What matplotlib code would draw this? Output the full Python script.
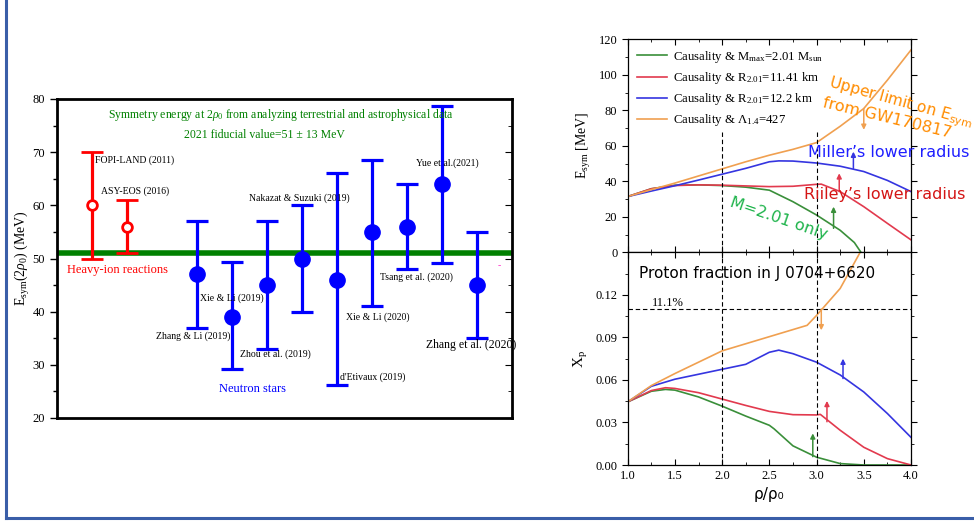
import matplotlib
matplotlib.use("Agg")
import matplotlib.pyplot as plt
from matplotlib.lines import Line2D
from matplotlib.ticker import MultipleLocator, FormatStrFormatter

plt.rcParams['font.family'] = ['Liberation Serif', 'DejaVu Serif']
plt.rcParams['mathtext.fontset'] = 'custom'
plt.rcParams['mathtext.rm'] = 'Liberation Serif'
plt.rcParams['mathtext.it'] = 'Liberation Serif:italic'

# ---------------- Left panel data ----------------
hi_pos = [1, 2]
hi_val = [60, 56]
hi_lo = [50, 51]
hi_hi = [70, 61]
ns_pos = [4, 5, 6, 7, 8, 9, 10, 11, 12]
ns_val = [47, 39, 45, 50, 46, 55, 56, 64, 45]
ns_lo = [37, 29.2, 33, 40, 26.2, 41, 48, 49.2, 35]
ns_hi = [57, 49.3, 57, 60, 66, 68.5, 64, 78.7, 55]
fiducial = 51
labels = ["FOPI-LAND (2011)", "ASY-EOS (2016)", "Zhang & Li (2019)", "Xie & Li (2019)",
          "Zhou et al. (2019)", "Nakazat & Suzuki (2019)", "d'Etivaux (2019)",
          "Xie & Li (2020)", "Tsang et al. (2020)", "Yue et al.(2021)", "Zhang et al. (2020)"]
label_x = [1.09, 1.26, 2.83, 4.09, 5.23, 5.49, 8.09, 8.26, 9.23, 10.26, 10.54]
label_y = [68.5, 62.7, 35.4, 42.6, 32.0, 61.4, 27.7, 39.0, 46.5, 68.0, 33.7]

# ---------------- Right panel data ----------------
esym_orange_x = [1.0, 1.25, 1.5, 1.75, 2.0, 2.25, 2.5, 2.75, 3.0, 3.25, 3.5, 3.75, 4.0]
esym_orange_y = [31.4, 35.3, 39, 43, 47, 51, 54.7, 58, 61.8, 71, 81, 97, 114]
esym_blue_x = [1.0, 1.25, 1.5, 1.75, 2.0, 2.25, 2.5, 2.6, 2.75, 3.0, 3.25, 3.5, 3.75, 4.0]
esym_blue_y = [31.4, 34.5, 37.5, 40.7, 44, 47.3, 51, 51.5, 51.4, 50.3, 48.5, 45.5, 40.5, 34.2]
esym_red_x = [1.0, 1.25, 1.5, 1.75, 2.0, 2.25, 2.5, 2.75, 3.0, 3.05, 3.25, 3.5, 3.75, 4.0]
esym_red_y = [31.4, 35.8, 37.6, 38, 37.8, 37.4, 37, 37.2, 38.3, 38.4, 34.2, 25.7, 16.3, 7]
esym_green_x = [1.0, 1.25, 1.5, 1.75, 2.0, 2.25, 2.5, 2.75, 3.0, 3.25, 3.4, 3.47]
esym_green_y = [31.4, 35.8, 37.8, 38, 37.6, 36.7, 35, 28.5, 21, 12.4, 5.5, 0]

xp_orange_x = [1.0, 1.25, 1.5, 1.75, 2.0, 2.25, 2.5, 2.75, 2.9, 3.0, 3.25, 3.47]
xp_orange_y = [0.0445, 0.056, 0.0645, 0.0725, 0.0805, 0.0855, 0.0905, 0.0955, 0.0985, 0.1055, 0.1245, 0.151]
xp_blue_x = [1.0, 1.25, 1.5, 1.75, 2.0, 2.25, 2.5, 2.6, 2.75, 3.0, 3.25, 3.5, 3.75, 4.0]
xp_blue_y = [0.0445, 0.0555, 0.0605, 0.064, 0.0675, 0.071, 0.0795, 0.081, 0.0785, 0.0725, 0.0635, 0.0515, 0.0363, 0.0195]
xp_red_x = [1.0, 1.25, 1.4, 1.5, 1.75, 2.0, 2.25, 2.5, 2.75, 3.0, 3.04, 3.25, 3.5, 3.75, 4.0]
xp_red_y = [0.0445, 0.0525, 0.0545, 0.054, 0.051, 0.0465, 0.042, 0.0378, 0.0355, 0.0353, 0.0357, 0.0245, 0.0125, 0.0045, 0.0]
xp_green_x = [1.0, 1.25, 1.4, 1.5, 1.75, 2.0, 2.25, 2.5, 2.55, 2.75, 3.0, 3.25, 3.5, 4.0]
xp_green_y = [0.0445, 0.052, 0.0533, 0.0528, 0.048, 0.0415, 0.0345, 0.028, 0.0255, 0.0135, 0.0055, 0.001, 0.0, 0.0]

legend_labels = [r"Causality & M$_{\rm max}$=2.01 M$_{\rm sun}$",
                 r"Causality & R$_{2.01}$=11.41 km",
                 r"Causality & R$_{2.01}$=12.2 km",
                 r"Causality & $\Lambda_{1.4}$=427"]
# arrows: (x, y_start, y_end)
esym_arrows = {'orange': (3.5, 81, 69), 'blue': (3.39, 47.3, 56.7),
               'red': (3.24, 34.2, 44.5), 'green': (3.18, 13.5, 25.7)}
xp_arrows = {'orange': (3.05, 0.110, 0.095), 'blue': (3.28, 0.061, 0.075),
             'red': (3.11, 0.0305, 0.0452), 'green': (2.96, 0.0059, 0.0223)}
proton_limit = 0.11
dashed_rho = [2.0, 3.0]

C = {'green': '#3a8f3a', 'red': '#e23a4e', 'blue': '#3535e0', 'orange': '#f0a050'}

fig = plt.figure(figsize=(9.74, 5.22), dpi=100)
W, H = 974, 522

def rect(l, r, t, b):
    return [l / W, 1 - b / H, (r - l) / W, (b - t) / H]

# ---------------- Left panel ----------------
ax = fig.add_axes(rect(57, 512, 99, 418))
ax.set_xlim(0, 13)
ax.set_ylim(20, 80)
ax.axhline(fiducial, color='#008000', lw=4, zorder=1)
ax.errorbar(hi_pos, hi_val,
            yerr=[[v - l for v, l in zip(hi_val, hi_lo)], [h - v for v, h in zip(hi_val, hi_hi)]],
            fmt='o', mfc='white', mec='#ff0000', mew=2, ms=7, color='#ff0000',
            ecolor='#ff0000', elinewidth=2.3, capsize=8, capthick=2.3, zorder=3)
ax.errorbar(ns_pos, ns_val,
            yerr=[[v - l for v, l in zip(ns_val, ns_lo)], [h - v for v, h in zip(ns_val, ns_hi)]],
            fmt='o', mfc='#0000ff', mec='#0000ff', ms=11, color='#0000ff',
            ecolor='#0000ff', elinewidth=2.3, capsize=8, capthick=2.3, zorder=3)
for t, x, y in zip(labels, label_x, label_y):
    fs = 8.5 if t == "Zhang et al. (2020)" else 7
    ax.text(x, y, t, fontsize=fs, ha='left', va='center', zorder=4)
ax.text(6.39, 77, r"Symmetry energy at 2$\rho_0$ from analyzing terrestrial and astrophysical data",
        color='#008000', fontsize=8.5, ha='center', va='center')
ax.text(5.93, 73.2, "2021 fiducial value=51 \u00b1 13 MeV", color='#008000', fontsize=8.5,
        ha='center', va='center')
ax.text(0.29, 47.8, "Heavy-ion reactions", color='#ff0000', fontsize=9, ha='left', va='center')
ax.text(4.63, 25.5, "Neutron stars", color='#0000ff', fontsize=9, ha='left', va='center')
ax.text(12.63, 48.6, "-", color='#ff33cc', fontsize=7, ha='center', va='center')
ax.set_ylabel(r"E$_{\rm sym}$(2$\rho_0$) (MeV)", fontsize=10)
ax.yaxis.set_label_coords(-0.055, 0.5)
ax.yaxis.set_major_locator(MultipleLocator(10))
ax.yaxis.set_minor_locator(MultipleLocator(5))
ax.set_xticks([])
ax.tick_params(axis='y', which='both', direction='out', labelsize=9, right=False)
ax.tick_params(axis='y', which='major', length=5, width=1)
ax.tick_params(axis='y', which='minor', length=3, width=1)
axr = ax.secondary_yaxis('right')
axr.yaxis.set_major_locator(MultipleLocator(10))
axr.yaxis.set_minor_locator(MultipleLocator(5))
axr.tick_params(which='both', direction='in', labelright=False)
axr.tick_params(which='major', length=5)
axr.tick_params(which='minor', length=3)
for s in ax.spines.values():
    s.set_linewidth(2)
axr.spines['right'].set_visible(False)

# ---------------- Right panels ----------------
a1 = fig.add_axes(rect(627.7, 911, 39.3, 252.3))
a2 = fig.add_axes(rect(627.7, 911, 252.3, 465))
for a in (a1, a2):
    a.set_xlim(1, 4)
    a.xaxis.set_major_locator(MultipleLocator(0.5))
    a.xaxis.set_minor_locator(MultipleLocator(0.25))
    a.tick_params(which='both', direction='in', top=True, right=True, labelsize=9)
    a.tick_params(which='major', length=4)
    a.tick_params(which='minor', length=2.5)
    a.tick_params(axis='y', which='both', left=True)
    for s in a.spines.values():
        s.set_linewidth(0.9)

a1.set_ylim(0, 120)
a1.yaxis.set_major_locator(MultipleLocator(20))
a1.yaxis.set_minor_locator(MultipleLocator(10))
a1.tick_params(axis='x', labelbottom=False)
a1.tick_params(axis='y', which='both', direction='out')

h1, = a1.plot(esym_green_x, esym_green_y, color=C['green'], lw=1.2)
h2, = a1.plot(esym_red_x, esym_red_y, color=C['red'], lw=1.2)
h3, = a1.plot(esym_blue_x, esym_blue_y, color=C['blue'], lw=1.2)
h4, = a1.plot(esym_orange_x, esym_orange_y, color=C['orange'], lw=1.2)
for xv in dashed_rho:
    a1.vlines(xv, 0, 67.5, colors='black', linestyles=(0, (4, 2.5)), lw=0.8)
a1.legend([h1, h2, h3, h4], legend_labels, loc='upper left', bbox_to_anchor=(0.0, 1.0),
          frameon=False, fontsize=9.2, handlelength=2.3, handletextpad=0.5,
          labelspacing=0.4, borderaxespad=0.35)
for k, (xv, y0, y1) in esym_arrows.items():
    a1.annotate('', xy=(xv, y1), xytext=(xv, y0),
                arrowprops=dict(arrowstyle='-|>', color=C[k], lw=1.1, mutation_scale=7,
                                shrinkA=0, shrinkB=0))
a1.set_ylabel(r"E$_{\rm sym}$ [MeV]", fontsize=10)

sans = ['DejaVu Sans']
a1.text(3.12, 93.3, r"Upper limit on E$_{\rm sym}$", color='#ff8c00', fontsize=11.2,
        family=sans, rotation=-15.5, rotation_mode='anchor', ha='left', va='baseline',
        math_fontfamily='dejavusans')
a1.text(3.055, 81.7, "from GW170817", color='#ff8c00', fontsize=11.5, family=sans,
        rotation=-13.5, rotation_mode='anchor', ha='left', va='baseline')
a1.text(2.907, 56.1, "Miller\u2019s lower radius", color='#1f1fff', fontsize=11.5,
        family=sans, ha='left', va='center')
a1.text(2.868, 32.3, "Riiley\u2019s lower radius", color='#d41515', fontsize=11.5,
        family=sans, ha='left', va='center')
a1.text(2.595, 18.8, "M=2.01 only", color='#1db34a', fontsize=11.5, family=sans,
        rotation=-19, rotation_mode='anchor', ha='center', va='center')

a2.set_ylim(0, 0.15)
a2.set_yticks([0.0, 0.03, 0.06, 0.09, 0.12])
a2.yaxis.set_minor_locator(MultipleLocator(0.015))
a2.yaxis.set_major_formatter(FormatStrFormatter('%.2f'))
a2.xaxis.set_major_formatter(FormatStrFormatter('%.1f'))
a2.tick_params(axis='y', which='both', direction='out')
a2.plot(xp_green_x, xp_green_y, color=C['green'], lw=1.2)
a2.plot(xp_red_x, xp_red_y, color=C['red'], lw=1.2)
a2.plot(xp_blue_x, xp_blue_y, color=C['blue'], lw=1.2)
a2.plot(xp_orange_x, xp_orange_y, color=C['orange'], lw=1.2)
for xv in dashed_rho:
    a2.axvline(xv, color='black', ls=(0, (4, 2.5)), lw=0.8)
a2.axhline(proton_limit, color='black', ls=(0, (4, 2.5)), lw=0.8)
for k, (xv, y0, y1) in xp_arrows.items():
    a2.annotate('', xy=(xv, y1), xytext=(xv, y0),
                arrowprops=dict(arrowstyle='-|>', color=C[k], lw=1.1, mutation_scale=7,
                                shrinkA=0, shrinkB=0))
a2.text(1.254, 0.1141, "11.1%", fontsize=9, ha='left', va='center')
a2.text(1.123, 0.1352, "Proton fraction in J 0704+6620", fontsize=11, family=sans,
        ha='left', va='center')
a2.set_ylabel(r"X$_{\rm p}$", fontsize=11)
a2.set_xlabel("\u03c1/\u03c1\u2080", fontsize=11, family=sans)

# ---------------- Blue border ----------------
bc = '#3a5ea8'
fig.add_artist(Line2D([6 / W, 6 / W], [1.0, 1 - 517.5 / H], color=bc, lw=2.2,
                      transform=fig.transFigure))
fig.add_artist(Line2D([6 / W, 1.0], [1 - 517.5 / H, 1 - 517.5 / H], color=bc, lw=2.2,
                      transform=fig.transFigure))

fig.savefig("out.png", dpi=100)
